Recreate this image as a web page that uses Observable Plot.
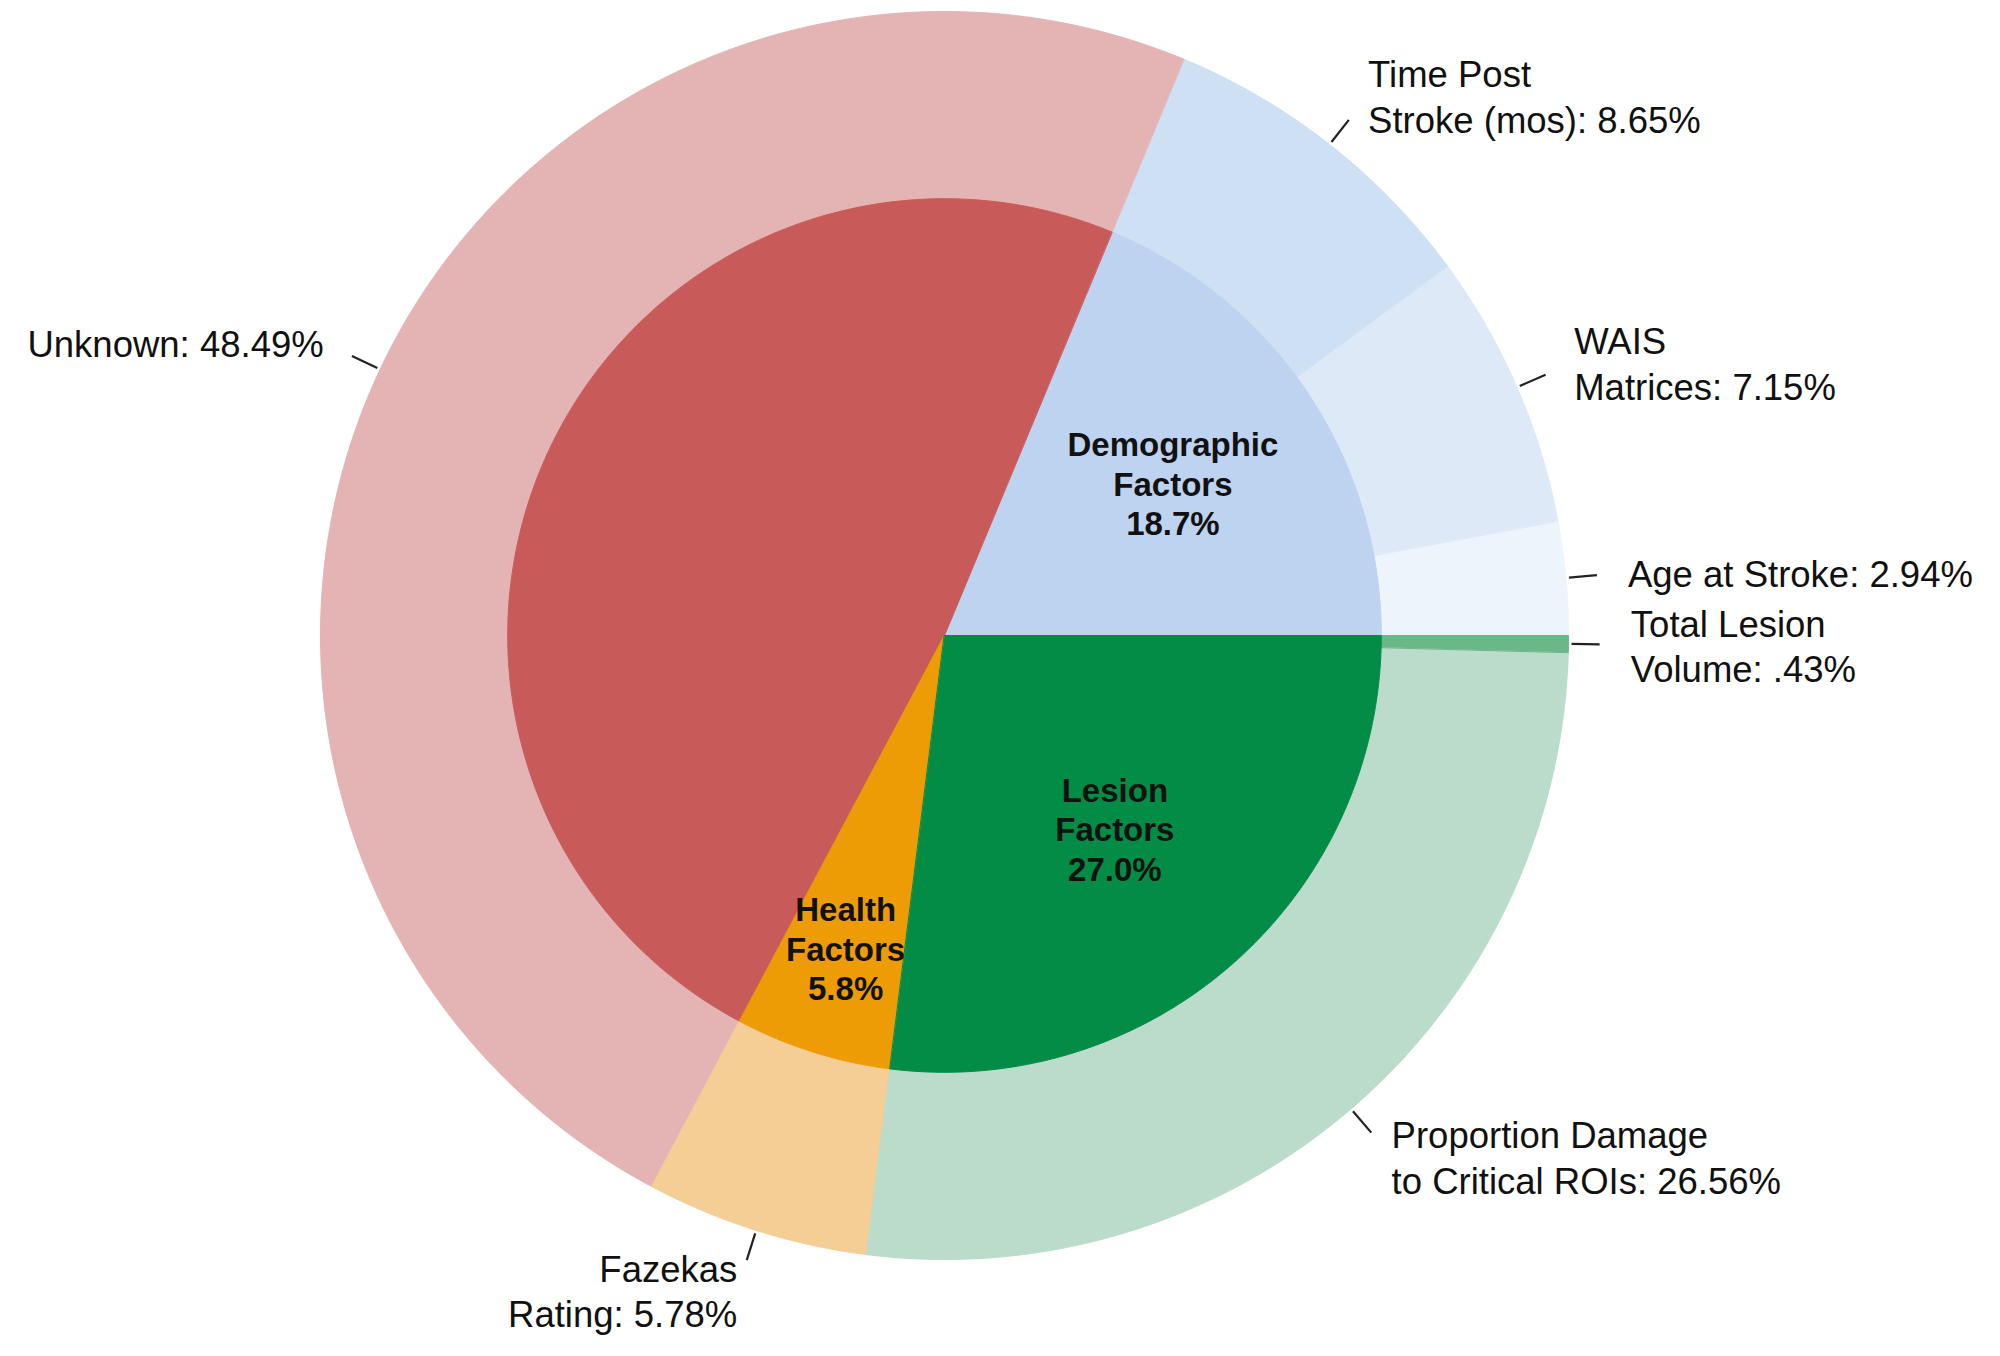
<!DOCTYPE html>
<html><head><meta charset="utf-8">
<script src="https://cdn.jsdelivr.net/npm/d3@7"></script>
<script src="https://cdn.jsdelivr.net/npm/@observablehq/plot@0.6"></script>
<style>body{margin:0;background:#fff} #chart svg{display:block}</style>
</head><body><div id="chart"></div>
<script>
// ---- data ----
const groups = ["Demographic Factors", "Unknown", "Health Factors", "Lesion Factors"];
const groupValues = [18.7, 48.49, 5.8, 27.0];
const groupShowLabel = [true, false, true, true];
const groupColors = ["#bed3ef", "#c85a5a", "#ee9c06", "#038c45"];

const items = ["Age at Stroke", "WAIS Matrices", "Time Post Stroke (mos)", "Unknown", "Fazekas Rating", "Proportion Damage to Critical ROIs", "Total Lesion Volume"];
const itemGroup = ["Demographic Factors", "Demographic Factors", "Demographic Factors", "Unknown", "Health Factors", "Lesion Factors", "Lesion Factors"];
const itemValues = [2.94, 7.15, 8.65, 48.49, 5.78, 26.56, 0.43];
const itemLabels = ["Age at Stroke: 2.94%", "WAIS\nMatrices: 7.15%", "Time Post\nStroke (mos): 8.65%", "Unknown: 48.49%", "Fazekas\nRating: 5.78%", "Proportion Damage\nto Critical ROIs: 26.56%", "Total Lesion\nVolume: .43%"];
const itemColors = ["#eef4fb", "#dde9f7", "#cde0f4", "#e4b4b4", "#f5ce95", "#bbdcca", "#6ab888"];

// ---- layout ----
const W = 2000, H = 1356, cx = 944, cy = 635, R = 624;
const rIn = 0.7;
const font = "'Liberation Sans', Arial, Helvetica, sans-serif";

const total = d3.sum(itemValues);
let acc = 0;
const itemArcs = items.map((name, i) => {
  const a0 = acc / total * 2 * Math.PI; acc += itemValues[i];
  const a1 = acc / total * 2 * Math.PI;
  return {name, group: itemGroup[i], a0, a1, mid: (a0 + a1) / 2, color: itemColors[i], label: itemLabels[i]};
});
const groupArcs = groups.map((g, j) => {
  const arcs = itemArcs.filter(d => d.group === g);
  const a0 = d3.min(arcs, d => d.a0), a1 = d3.max(arcs, d => d.a1);
  const th = a1 - a0;
  const rc = th < 0.5 ? 0.75 * rIn : 4 * rIn * Math.sin(th / 2) / (3 * th);
  return {name: g, a0, a1, mid: (a0 + a1) / 2, color: groupColors[j], show: groupShowLabel[j],
          label: g.replace(" ", "\n") + "\n" + groupValues[j].toFixed(1) + "%", rc};
});

function sector(r0, r1, a0, a1, key, color) {
  const n = Math.max(2, Math.ceil((a1 - a0) / (Math.PI / 360)));
  const pts = [];
  for (let i = 0; i <= n; i++) { const a = a0 + (a1 - a0) * i / n; pts.push({x: r1 * Math.cos(a), y: r1 * Math.sin(a), key, color}); }
  if (r0 === 0) pts.push({x: 0, y: 0, key, color});
  else for (let i = n; i >= 0; i--) { const a = a0 + (a1 - a0) * i / n; pts.push({x: r0 * Math.cos(a), y: r0 * Math.sin(a), key, color}); }
  return pts;
}
const outerPts = itemArcs.flatMap(d => sector(rIn, 1, d.a0, d.a1, "o-" + d.name, d.color));
const innerPts = groupArcs.flatMap(d => sector(0, rIn, d.a0, d.a1, "i-" + d.name, d.color));

const pos = (r, a) => [r * Math.cos(a), r * Math.sin(a)];
const right = itemArcs.filter(d => Math.cos(d.mid) >= 0);
const left = itemArcs.filter(d => Math.cos(d.mid) < 0);

const textOpts = (anchor) => ({
  x: d => pos(1.1, d.mid)[0], y: d => pos(1.1, d.mid)[1], text: "label",
  textAnchor: anchor, lineAnchor: "middle", lineHeight: 1.25,
  fontSize: 36.5, fontFamily: font, fill: "#111"
});

const chart = Plot.plot({
  width: W, height: H, margin: 0,
  x: {domain: [-cx / R, (W - cx) / R], axis: null},
  y: {domain: [-(H - cy) / R, cy / R], axis: null},
  color: {type: "identity"},
  style: {background: "#fff", fontFamily: font},
  marks: [
    Plot.line(outerPts, {x: "x", y: "y", z: "key", fill: "color", stroke: "color", strokeWidth: 1, curve: "linear-closed"}),
    Plot.line(innerPts, {x: "x", y: "y", z: "key", fill: "color", stroke: "color", strokeWidth: 1, curve: "linear-closed"}),
    Plot.link(itemArcs, {
      x1: d => pos(1.005, d.mid)[0], y1: d => pos(1.005, d.mid)[1],
      x2: d => pos(1.05, d.mid)[0], y2: d => pos(1.05, d.mid)[1],
      stroke: "#222", strokeWidth: 2.2
    }),
    Plot.text(right, textOpts("start")),
    Plot.text(left, textOpts("end")),
    Plot.text(groupArcs.filter(d => d.show), {
      x: d => pos(d.rc, d.mid)[0], y: d => pos(d.rc, d.mid)[1], text: "label",
      lineAnchor: "middle", lineHeight: 1.2, fontSize: 33, fontWeight: "bold",
      fontFamily: font, fill: "#111"
    })
  ]
});
document.getElementById("chart").appendChild(chart);
</script>
</body></html>
